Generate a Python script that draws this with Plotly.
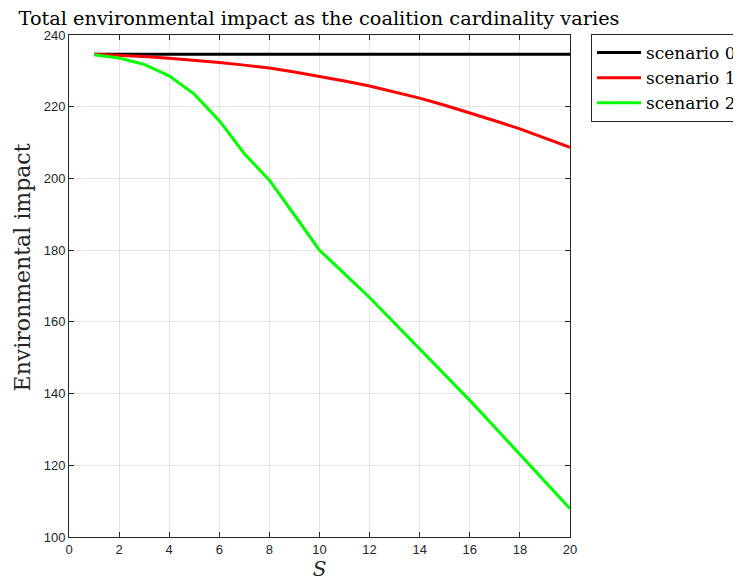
import plotly.graph_objects as go

S = list(range(1, 21))
scenario0 = [234.6] * 20
scenario1 = [234.6, 234.4, 234.0, 233.5, 233.0, 232.3, 231.6, 230.8, 229.7, 228.5,
             227.2, 225.8, 224.2, 222.4, 220.4, 218.3, 216.1, 213.8, 211.3, 208.7]
scenario2 = [234.5, 233.6, 231.8, 228.6, 223.5, 216.1, 206.9, 199.5, 189.8, 180.0,
             173.4, 166.8, 159.6, 152.4, 145.3, 138.1, 130.6, 123.1, 115.5, 107.9]
names = ["scenario 0", "scenario 1", "scenario 2"]
colors = ["#000000", "#ff0000", "#00ff00"]
x_ticks = list(range(0, 21, 2))
y_ticks = list(range(100, 241, 20))

serif = "DejaVu Serif"
fig = go.Figure()
for name, ys, c in zip(names, [scenario0, scenario1, scenario2], colors):
    fig.add_trace(go.Scatter(x=S, y=ys, mode="lines", name=name,
                             line=dict(color=c, width=3)))

axis_common = dict(
    showline=True, linecolor="#262626", linewidth=1, mirror="ticks",
    ticks="inside", ticklen=5, tickcolor="#262626",
    showgrid=True, gridcolor="#e3e3e3", gridwidth=1, zeroline=False,
    tickfont=dict(family="Liberation Sans", size=13, color="#262626"),
)
fig.update_xaxes(range=[0, 20], tickvals=x_ticks,
                 title=dict(text="<i>S</i>", font=dict(family=serif, size=20, color="#262626"),
                            standoff=0),
                 **axis_common)
fig.update_yaxes(range=[100, 240], tickvals=y_ticks, **axis_common)

fig.add_annotation(text="Environmental impact", textangle=-90,
                   xref="paper", yref="paper", x=-0.0938, y=0.537,
                   xanchor="center", yanchor="middle", showarrow=False,
                   font=dict(family=serif, size=22, color="#262626"))

# page has an 8px body margin, so figure coords are offset by 8px
fig.update_layout(
    width=733, height=576,
    margin=dict(l=61, r=171, t=27, b=47, autoexpand=False),
    paper_bgcolor="white", plot_bgcolor="white",
    title=dict(text="Total environmental impact as the coalition cardinality varies",
               x=0.4243, xanchor="center", y=0.983, yanchor="middle",
               font=dict(family=serif, size=19.3, color="#000000")),
    legend=dict(x=1.042, y=1.002, xanchor="left", yanchor="top",
                bordercolor="#262626", borderwidth=1, bgcolor="white",
                font=dict(family=serif, size=17, color="#000000"),
                tracegroupgap=0, itemwidth=44),
    showlegend=True,
)
fig.write_html("out.html")
